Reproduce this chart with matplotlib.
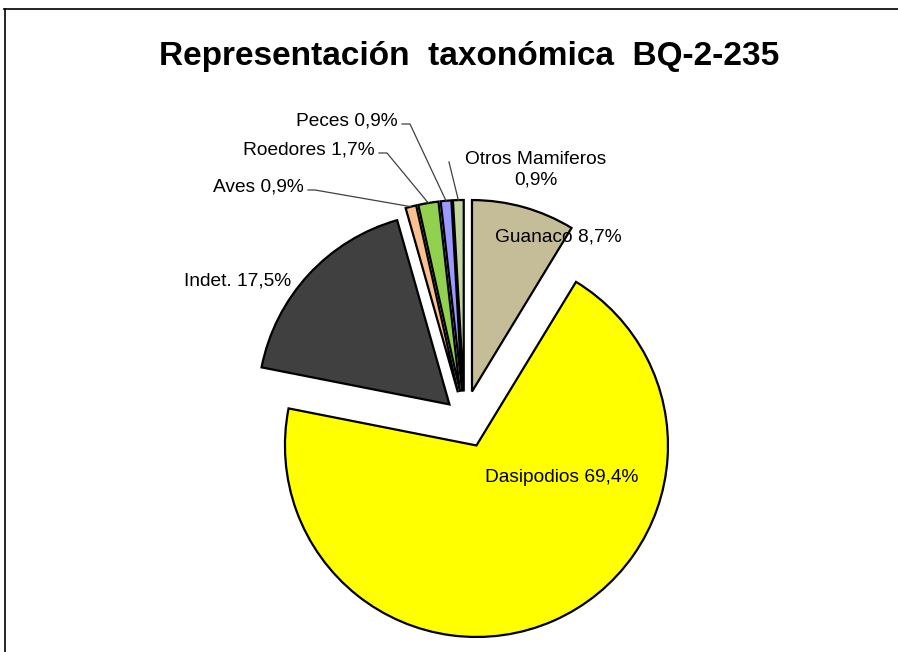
import matplotlib
matplotlib.use("Agg")
import matplotlib.pyplot as plt
from matplotlib.lines import Line2D
import numpy as np

plt.rcParams['font.family'] = ['Liberation Sans', 'DejaVu Sans']

# datos
categorias = ["Guanaco", "Dasipodios", "Indet.", "Aves", "Roedores", "Peces", "Otros Mamiferos"]
porcentajes = [8.7, 69.4, 17.5, 0.9, 1.7, 0.9, 0.9]
colores = ["#C4BD97", "#FFFF00", "#404040", "#FAC090", "#92D050", "#9999FF", "#C3D69B"]
explode = [0.145, 0.155, 0.107, 0.14, 0.14, 0.14, 0.14]

W, H = 898, 652
CX, CY, R = 464.5, 418.3, 191.5   # centro y radio del pie en pixeles


def px(x, y):
    # pixel (y hacia abajo) -> coordenadas de datos
    return (x - CX) / R, (CY - y) / R


fig = plt.figure(figsize=(W / 100, H / 100), dpi=100)
ax = fig.add_axes([0, 0, 1, 1])

wedges, _ = ax.pie(porcentajes, colors=colores, explode=explode, startangle=90,
                   counterclock=False, radius=1.0,
                   wedgeprops=dict(edgecolor="black", linewidth=1.6))
ax.set_xlim(px(0, 0)[0], px(W, 0)[0])
ax.set_ylim(px(0, H)[1], px(0, 0)[1])
ax.set_aspect('auto')
ax.axis('off')


def pct(i):
    return f"{porcentajes[i]:.1f}%".replace(".", ",")


def etiqueta(i):
    return f"{categorias[i]} {pct(i)}"


def borde(i):
    w = wedges[i]
    ang = np.deg2rad((w.theta1 + w.theta2) / 2)
    return w.center[0] + w.r * np.cos(ang), w.center[1] + w.r * np.sin(ang)


fs = 13.8
# etiquetas dentro / junto a las porciones
ax.text(*px(558, 237), etiqueta(0), fontsize=fs, ha="center", va="center")
ax.text(*px(562, 477), etiqueta(1), fontsize=fs, ha="center", va="center")
ax.text(*px(238, 281), etiqueta(2), fontsize=fs, ha="center", va="center")

# etiquetas con linea guia
guias = {3: (304, 187, 315), 4: (375, 150, 387), 5: (398, 121, 410)}
for i, (xr, y, xq) in guias.items():
    ax.text(*px(xr, y), etiqueta(i), fontsize=fs, ha="right", va="center")
    bx, by = borde(i)
    x0, y0 = px(xr + 4, y + 3)
    x1, y1 = px(xq, y + 3)
    ax.plot([x0, x1, bx], [y0, y1, by], color="#404040", linewidth=0.9)

ax.text(*px(536, 170), categorias[6] + "\n" + pct(6),
        fontsize=fs, ha="center", va="center", linespacing=1.25)
bx, by = borde(6)
x0, y0 = px(449, 162)
ax.plot([x0, bx], [y0, by], color="#404040", linewidth=0.9)

fig.text(469.5 / W, 1 - 57 / H, "Representación  taxonómica  BQ-2-235",
         fontsize=24, fontweight="bold", ha="center", va="center")

# marco
fig.add_artist(Line2D([4 / W, 1], [1 - 8.5 / H, 1 - 8.5 / H], color="black", linewidth=1.2))
fig.add_artist(Line2D([5 / W, 5 / W], [0, 1 - 8.5 / H], color="black", linewidth=1.2))

fig.savefig("out.png", dpi=100)
